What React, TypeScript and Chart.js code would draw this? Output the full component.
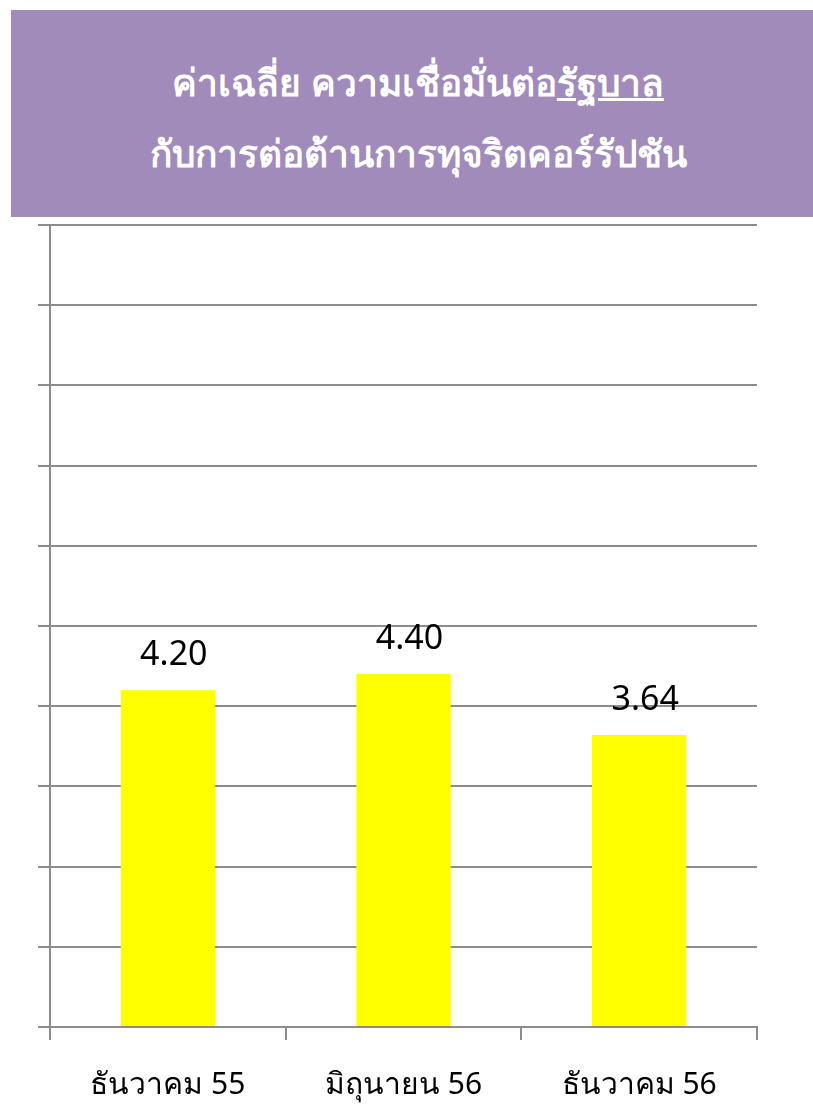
import React, { useEffect, useRef } from "react";
import { Chart, registerables } from "chart.js";

Chart.register(...registerables);

const categories = ["ธันวาคม 55", "มิถุนายน 56", "ธันวาคม 56"];
const values = [4.2, 4.4, 3.64];
const yMin = 0;
const yMax = 10;
const yStep = 1;

const titleLine1 = "ค่าเฉลี่ย ความเชื่อมั่นต่อ";
const titleUnderlined = "รัฐบาล";
const titleLine2 = "กับการต่อต้านการทุจริตคอร์รัปชัน";

const GRID = "#8c8c8c";

const valueLabels = {
  id: "valueLabels",
  afterDatasetsDraw(chart: any) {
    const ctx = chart.ctx;
    const meta = chart.getDatasetMeta(0);
    ctx.save();
    ctx.font = "34px 'Noto Sans', sans-serif";
    ctx.fillStyle = "#000";
    ctx.textAlign = "center";
    ctx.textBaseline = "alphabetic";
    meta.data.forEach((bar: any, i: number) => {
      const v = chart.data.datasets[0].data[i] as number;
      ctx.fillText(v.toFixed(2), bar.x + 6, bar.y - 25);
    });
    ctx.restore();
  },
};

export default function App() {
  const ref = useRef<HTMLCanvasElement>(null);
  useEffect(() => {
    if (!ref.current) return;
    const chart = new Chart(ref.current, {
      type: "bar",
      data: {
        labels: categories,
        datasets: [
          {
            data: values,
            backgroundColor: "#ffff00",
            borderWidth: 0,
            categoryPercentage: 1,
            barPercentage: 0.4,
          },
        ],
      },
      options: {
        animation: false,
        responsive: false,
        devicePixelRatio: 1,
        layout: { padding: { left: 38, right: 56, top: 7, bottom: 2 } },
        plugins: { legend: { display: false }, tooltip: { enabled: false } },
        scales: {
          y: {
            min: yMin,
            max: yMax,
            ticks: { display: false, stepSize: yStep },
            grid: { color: GRID, lineWidth: 2, tickLength: 12 },
            border: { display: true, color: GRID, width: 2 },
          },
          x: {
            offset: true,
            afterFit: (scale: any) => {
              scale.height = 76;
            },
            grid: { drawOnChartArea: false, color: GRID, lineWidth: 2, tickLength: 13, offset: true },
            border: { display: true, color: GRID, width: 2 },
            ticks: {
              color: "#000",
              padding: 27,
              font: { family: "'Noto Sans', sans-serif", size: 30 },
            },
          },
        },
      },
      plugins: [valueLabels],
    });
    return () => chart.destroy();
  }, []);

  return (
    <div>
      <div
        style={{
          position: "absolute",
          left: 11,
          top: 10,
          width: 802,
          height: 207,
          background: "#a08bbb",
          color: "#fff",
          fontFamily: "'Noto Sans', sans-serif",
          fontWeight: "bold",
          fontSize: 37,
          textAlign: "center",
          display: "flex",
          flexDirection: "column",
          justifyContent: "center",
          lineHeight: "71px",
          paddingTop: 6,
          paddingLeft: 12,
          boxSizing: "border-box",
        }}
      >
        <div>
          {titleLine1}
          <u>{titleUnderlined}</u>
        </div>
        <div>{titleLine2}</div>
      </div>
      <canvas
        ref={ref}
        width={813}
        height={887}
        style={{ position: "absolute", left: 0, top: 218, width: 813, height: 887 }}
      />
    </div>
  );
}
